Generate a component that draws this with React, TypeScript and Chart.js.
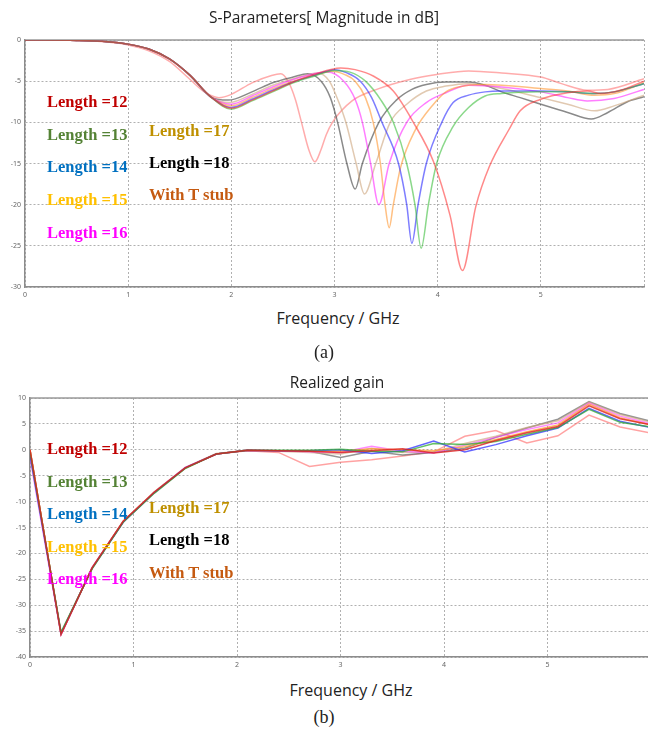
import React, { useEffect, useRef } from 'react';
import { Chart, registerables } from 'chart.js';

Chart.register(...registerables);

// ---------- labels ----------
const seriesNames = ['Length =12', 'Length =13', 'Length =14', 'Length =15', 'Length =16', 'Length =17', 'Length =18', 'With T stub'];
const labelColors = ['#C00000', '#548235', '#0070C0', '#FFC000', '#FF00FF', '#BF9000', '#000000', '#C55A11'];
const s11LineColors = [
  'rgba(255,40,40,0.55)', 'rgba(60,190,60,0.6)', 'rgba(40,40,255,0.6)', 'rgba(255,140,30,0.55)',
  'rgba(255,40,255,0.6)', 'rgba(205,165,125,0.6)', 'rgba(60,60,60,0.6)', 'rgba(255,90,90,0.5)',
];
const gainLineColors = [
  'rgba(220,30,30,0.8)', 'rgba(50,170,50,0.75)', 'rgba(50,50,255,0.75)', 'rgba(255,150,40,0.7)',
  'rgba(255,60,255,0.6)', 'rgba(205,165,125,0.65)', 'rgba(90,90,90,0.65)', 'rgba(255,100,100,0.6)',
];

const s11XTicks = [0, 1, 2, 3, 4, 5, 6];
const s11YTicks = [0, -5, -10, -15, -20, -25, -30];
const gainYTicks = [10, 5, 0, -5, -10, -15, -20, -25, -30, -35, -40];

// ---------- S11 (dB) ----------
const s11Freq12 = [0, 0.5, 0.8, 1.0, 1.2, 1.4, 1.6, 1.8, 2.0, 2.2, 2.4, 2.6, 2.8, 3.06, 3.2, 3.38, 3.57, 3.76, 3.96, 4.12, 4.24, 4.37, 4.5, 4.69, 4.8, 5.0, 5.26, 5.45, 5.58, 5.77, 6.0];
const s11Mag12 = [0, -0.05, -0.2, -0.5, -1.1, -2.3, -4.3, -6.9, -8.3, -7.3, -6.2, -5.1, -4.2, -3.4, -3.6, -4.4, -6.2, -9.9, -14.8, -21.3, -28.0, -20.2, -15.4, -10.9, -8.6, -7.2, -6.4, -6.2, -6.5, -6.1, -5.0];

const s11Freq13 = [0, 0.5, 0.8, 1.0, 1.2, 1.4, 1.6, 1.8, 2.0, 2.2, 2.4, 2.6, 2.8, 3.0, 3.15, 3.3, 3.45, 3.57, 3.7, 3.78, 3.84, 3.91, 3.99, 4.15, 4.3, 4.46, 4.62, 5.0, 5.26, 5.52, 5.71, 6.0];
const s11Mag13 = [0, -0.05, -0.2, -0.5, -1.1, -2.3, -4.3, -6.9, -8.4, -7.4, -6.3, -5.2, -4.4, -3.7, -3.9, -5.0, -7.3, -10, -15, -20, -25.3, -20, -15, -10.5, -8.2, -6.8, -6.5, -6.3, -6.3, -6.5, -6.3, -5.3];

const s11Freq14 = [0, 0.5, 0.8, 1.0, 1.2, 1.4, 1.6, 1.8, 2.0, 2.2, 2.4, 2.6, 2.8, 3.0, 3.12, 3.25, 3.36, 3.46, 3.62, 3.7, 3.75, 3.81, 3.89, 4.04, 4.15, 4.3, 4.46, 4.62, 5.0, 5.26, 5.52, 5.71, 6.0];
const s11Mag14 = [0, -0.05, -0.2, -0.5, -1.1, -2.3, -4.3, -6.9, -8.2, -7.2, -6.1, -5.1, -4.3, -3.6, -4.0, -5.0, -7.0, -10, -15, -20, -24.7, -20, -15, -10, -7.6, -6.7, -6.3, -6.2, -6.2, -6.3, -6.5, -6.3, -5.3];

const s11Freq15 = [0, 0.5, 0.8, 1.0, 1.2, 1.4, 1.6, 1.8, 2.0, 2.2, 2.4, 2.6, 2.8, 2.97, 3.1, 3.2, 3.3, 3.375, 3.445, 3.49, 3.53, 3.57, 3.64, 3.78, 3.96, 4.08, 4.2, 4.46, 5.0, 5.26, 5.52, 5.71, 6.0];
const s11Mag15 = [0, -0.05, -0.2, -0.5, -1.1, -2.3, -4.3, -6.9, -8.0, -7.0, -5.9, -5.0, -4.3, -3.8, -4.2, -5.0, -7.0, -10, -15, -20, -22.8, -20, -15.5, -11, -7.8, -6.3, -5.7, -5.4, -5.9, -6.2, -6.7, -6.5, -5.2];

const s11Freq16 = [0, 0.5, 0.8, 1.0, 1.2, 1.4, 1.6, 1.8, 2.0, 2.2, 2.4, 2.6, 2.8, 2.93, 3.09, 3.2, 3.27, 3.35, 3.43, 3.53, 3.7, 3.89, 4.08, 4.3, 4.62, 5.0, 5.26, 5.45, 5.71, 6.0];
const s11Mag16 = [0, -0.05, -0.2, -0.5, -1.1, -2.3, -4.3, -6.9, -7.8, -6.8, -5.7, -4.8, -4.1, -3.9, -5.0, -7.2, -10, -15, -20, -15, -10, -7.6, -6.4, -5.5, -5.7, -6.3, -7.0, -7.4, -7.1, -6.0];

const s11Freq17 = [0, 0.5, 0.8, 1.0, 1.2, 1.4, 1.6, 1.8, 1.98, 2.2, 2.4, 2.6, 2.84, 2.95, 3.04, 3.11, 3.21, 3.29, 3.4, 3.54, 3.7, 3.89, 4.08, 4.3, 4.62, 5.0, 5.26, 5.52, 5.71, 6.0];
const s11Mag17 = [0, -0.05, -0.2, -0.5, -1.1, -2.3, -4.3, -6.9, -7.6, -6.6, -5.5, -4.7, -4.0, -5.0, -7.5, -10, -15, -18.7, -15, -10, -7.8, -6.2, -5.6, -5.3, -5.9, -7.0, -7.8, -8.6, -8.0, -6.7];

const s11Freq18 = [0, 0.5, 0.8, 1.0, 1.2, 1.4, 1.6, 1.8, 1.97, 2.2, 2.4, 2.6, 2.74, 2.87, 2.96, 3.03, 3.12, 3.2, 3.27, 3.43, 3.6, 3.75, 3.89, 4.08, 4.3, 4.46, 4.62, 4.8, 5.0, 5.26, 5.49, 5.65, 5.84, 6.0];
const s11Mag18 = [0, -0.05, -0.2, -0.5, -1.1, -2.3, -4.3, -6.9, -7.3, -6.3, -5.2, -4.5, -4.1, -5.0, -7.0, -10, -15, -18.1, -15, -10, -7.3, -6.0, -5.4, -5.1, -5.1, -5.5, -6.3, -7.0, -7.8, -8.8, -9.6, -8.8, -7.5, -6.9];

const s11FreqT = [0, 0.5, 0.8, 1.0, 1.2, 1.4, 1.6, 1.75, 1.88, 2.0, 2.2, 2.39, 2.48, 2.55, 2.62, 2.68, 2.75, 2.81, 2.87, 2.92, 2.98, 3.17, 3.41, 3.73, 3.99, 4.3, 4.62, 5.0, 5.2, 5.45, 5.65, 6.0];
const s11MagT = [0, -0.05, -0.25, -0.6, -1.3, -2.6, -4.8, -6.4, -7.0, -6.6, -5.2, -4.3, -4.1, -5.0, -7.2, -10, -13.3, -14.8, -13.3, -11.5, -10, -7.4, -6.0, -4.8, -4.2, -3.75, -4.0, -4.5, -5.3, -6.1, -6.0, -4.7];

// ---------- Realized gain (dB) ----------
const gainFreq = [0, 0.3, 0.6, 0.9, 1.2, 1.5, 1.8, 2.1, 2.4, 2.7, 3.0, 3.3, 3.6, 3.9, 4.2, 4.5, 4.8, 5.1, 5.4, 5.7, 6.0];
const gain12 = [0, -35.6, -22.8, -13.8, -8.2, -3.5, -0.8, -0.1, -0.2, -0.3, -0.5, -0.2, 0.2, -0.6, 0.0, 1.8, 3.3, 4.5, 8.5, 6.0, 4.8];
const gain13 = [-0.5, -35.2, -23.0, -14.0, -8.4, -3.6, -0.8, -0.1, -0.1, -0.1, 0.1, -0.3, -0.4, 1.2, 1.0, 1.6, 3.0, 4.3, 7.8, 5.3, 4.4];
const gain14 = [-1.0, -35.4, -22.9, -14.0, -8.3, -3.5, -0.8, -0.1, -0.2, -0.2, 0.0, -0.7, -0.2, 1.7, -0.4, 1.0, 2.7, 4.2, 8.0, 5.5, 4.3];
const gain15 = [0, -35.5, -22.8, -13.9, -8.2, -3.5, -0.8, -0.1, -0.2, -0.3, -0.3, 0.2, 0.0, -0.2, 0.6, 2.0, 3.5, 4.8, 8.8, 6.2, 4.8];
const gain16 = [-1.5, -35.7, -22.7, -13.9, -8.2, -3.4, -0.8, -0.1, -0.2, -0.4, -0.5, 0.7, -0.3, -0.6, 0.9, 2.4, 3.9, 5.2, 9.0, 6.5, 5.0];
const gain17 = [0, -35.5, -22.8, -13.8, -8.1, -3.4, -0.7, -0.1, -0.3, -0.5, -0.8, 0.3, -0.5, -0.4, 1.2, 2.6, 4.3, 5.6, 9.2, 6.8, 5.3];
const gain18 = [0, -35.6, -22.8, -13.9, -8.2, -3.5, -0.8, -0.1, -0.3, -0.3, -1.5, -0.3, -1.0, -0.5, 0.3, 2.4, 4.2, 5.9, 9.3, 7.0, 5.5];
const gainT = [0, -35.6, -22.8, -13.8, -8.2, -3.5, -0.8, -0.2, -0.5, -3.2, -2.4, -1.9, -1.2, -0.4, 2.6, 3.7, 1.3, 2.7, 6.7, 4.4, 3.2];

const s11Sets: [number[], number[]][] = [
  [s11Freq12, s11Mag12], [s11Freq13, s11Mag13], [s11Freq14, s11Mag14], [s11Freq15, s11Mag15],
  [s11Freq16, s11Mag16], [s11Freq17, s11Mag17], [s11Freq18, s11Mag18], [s11FreqT, s11MagT],
];
const gainSets = [gain12, gain13, gain14, gain15, gain16, gain17, gain18, gainT];

const zip = (xs: number[], ys: number[]) => xs.map((x, i) => ({ x, y: ys[i] }));

const topBorder = {
  id: 'topBorder',
  beforeDatasetsDraw(chart: any) {
    const { ctx, chartArea } = chart;
    ctx.save();
    ctx.strokeStyle = '#9a9a9a';
    ctx.lineWidth = 1.5;
    ctx.beginPath();
    ctx.moveTo(chartArea.left, chartArea.top);
    ctx.lineTo(chartArea.right, chartArea.top);
    ctx.stroke();
    ctx.restore();
  },
};

const tickFont = { family: 'Noto Sans, sans-serif', size: 7 };

function makeOptions(xMax: number, yMin: number, yMax: number, padTop: number, yWidth: number, hideX: number | null) {
  return {
    responsive: false,
    animation: false as const,
    events: [] as any[],
    layout: { padding: { top: padTop, left: 0, right: 0, bottom: 0 } },
    plugins: { legend: { display: false }, tooltip: { enabled: false }, title: { display: false } },
    elements: { point: { radius: 0 } },
    scales: {
      x: {
        type: 'linear' as const,
        min: 0,
        max: xMax,
        ticks: {
          stepSize: 1,
          includeBounds: false,
          maxRotation: 0,
          autoSkip: false,
          padding: 4,
          font: tickFont,
          color: '#666',
          callback: (v: any) => (hideX !== null && v === hideX ? '' : String(v)),
        },
        grid: { color: '#b0b0b0', lineWidth: 1, drawTicks: false },
        border: { display: true, color: '#8c8c8c', width: 1.5, dash: [2, 2] },
        afterFit: (s: any) => { s.height = 13; },
      },
      y: {
        min: yMin,
        max: yMax,
        ticks: { stepSize: 5, padding: 4, font: tickFont, color: '#666', autoSkip: false },
        grid: { color: '#b0b0b0', lineWidth: 1, drawTicks: false },
        border: { display: true, color: '#8c8c8c', width: 1.5, dash: [2, 2] },
        afterFit: (s: any) => { s.width = yWidth; },
      },
    },
  };
}

const txt = (left: number, cy: number, text: string, color: string, size: number, family: string, weight: string | number, center = false): React.ReactElement => (
  <div
    key={text + cy}
    style={{
      position: 'absolute',
      left: center ? left - 200 : left,
      width: center ? 400 : undefined,
      textAlign: center ? 'center' : 'left',
      top: cy - 12,
      height: 24,
      lineHeight: '24px',
      fontSize: size,
      fontFamily: family,
      fontWeight: weight as any,
      color,
      whiteSpace: 'nowrap',
    }}
  >
    {text}
  </div>
);

const serifBold = '"Liberation Serif", "Times New Roman", serif';
const sans = '"Open Sans", "Noto Sans", sans-serif';

export default function App() {
  const topRef = useRef<HTMLCanvasElement>(null);
  const botRef = useRef<HTMLCanvasElement>(null);

  useEffect(() => {
    const top = new Chart(topRef.current!, {
      type: 'line',
      data: {
        datasets: s11Sets.map(([f, m], i) => ({
          label: seriesNames[i],
          data: zip(f, m),
          borderColor: s11LineColors[i],
          borderWidth: 1.5,
          cubicInterpolationMode: 'monotone' as const,
          fill: false,
        })),
      },
      options: makeOptions(6, -30, 0, 40, 25, 6) as any,
      plugins: [topBorder],
    });
    const bot = new Chart(botRef.current!, {
      type: 'line',
      data: {
        datasets: gainSets.map((g, i) => ({
          label: seriesNames[i],
          data: zip(gainFreq, g),
          borderColor: gainLineColors[i],
          borderWidth: 1.5,
          tension: 0,
          fill: false,
        })),
      },
      options: makeOptions(5.97, -40, 10, 28, 30, null) as any,
      plugins: [topBorder],
    });
    return () => {
      top.destroy();
      bot.destroy();
    };
  }, []);

  const leftCol = [0, 1, 2, 3, 4];
  const rightCol = [5, 6, 7];

  return (
    <div style={{ position: 'absolute', left: 0, top: 0, width: 648, height: 736, background: '#fff', overflow: 'hidden' }}>
      <canvas ref={topRef} width={648} height={300} style={{ position: 'absolute', left: 0, top: 0, display: 'block' }} />
      <canvas ref={botRef} width={648} height={300} style={{ position: 'absolute', left: 0, top: 370, display: 'block' }} />

      {txt(324, 17, 'S-Parameters[ Magnitude in dB]', '#222', 15.5, sans, 400, true)}
      {txt(338, 318, 'Frequency / GHz', '#222', 16, sans, 400, true)}
      {txt(324, 352, '(a)', '#222', 18, serifBold, 400, true)}

      {txt(337, 382, 'Realized gain', '#222', 15.5, sans, 400, true)}
      {txt(351, 690, 'Frequency / GHz', '#222', 16, sans, 400, true)}
      {txt(324, 717, '(b)', '#222', 18, serifBold, 400, true)}

      {leftCol.map((i, k) => txt(47, 102 + k * 32.7, seriesNames[i], labelColors[i], 16.5, serifBold, 700))}
      {rightCol.map((i, k) => txt(149, 130.5 + k * 32.3, seriesNames[i], labelColors[i], 16.5, serifBold, 700))}

      {leftCol.map((i, k) => txt(47, 449 + k * 32.5, seriesNames[i], labelColors[i], 16.5, serifBold, 700))}
      {rightCol.map((i, k) => txt(149, 507.5 + k * 32.5, seriesNames[i], labelColors[i], 16.5, serifBold, 700))}
    </div>
  );
}
